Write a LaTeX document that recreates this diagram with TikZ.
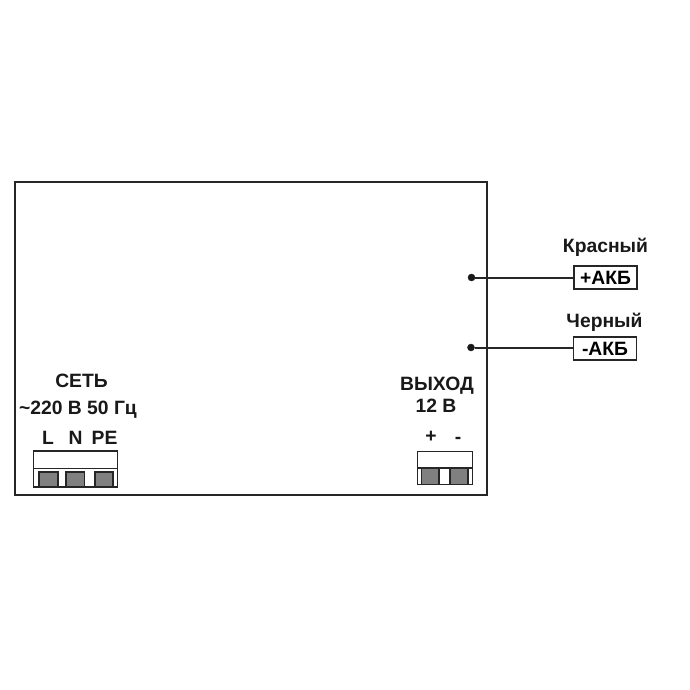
\documentclass[tikz,border=0pt]{standalone}
\usepackage{fontspec}
\setmainfont{Liberation Sans}[Ligatures=TeX]
\tikzset{
  px/.style={x=1pt,y=-1pt},
  lbl/.style={font=\bfseries\fontsize{19.3}{22}\selectfont,text=black!90,inner sep=0pt,anchor=center},
  wire/.style={line width=2pt,draw=black!85},
  body/.style={line width=2pt,draw=black!85,fill=white},
  pin/.style={draw=black!85,line width=1.6pt,fill=black!50},
  batt/.style={draw=black!85,line width=1.8pt,fill=white,minimum height=23pt,inner sep=0pt,font=\bfseries\fontsize{19.3}{22}\selectfont},
  dot/.style={circle,fill=black!90,draw=black!90,inner sep=0pt,minimum size=7pt}
}
\begin{document}
\begin{tikzpicture}[px]
\useasboundingbox (0,0) rectangle (690,690);
\fill[white] (0,0) rectangle (690,690);
\draw[body] (14.5,181.5) rectangle (487,495);
% left terminal
\draw[body,line width=1.7pt] (33.5,451) rectangle (117.5,487);
\draw[wire,line width=1.6pt] (33.5,468.5) -- (117.5,468.5);
\draw[pin] (39,472) rectangle (58,486.5);
\draw[pin] (66,472) rectangle (84.5,486.5);
\draw[pin] (95,472) rectangle (113,486.5);
% right terminal
\draw[body,line width=1.7pt] (417.5,451.5) rectangle (472.5,484.5);
\draw[wire,line width=1.6pt] (417.5,468) -- (472.5,468);
\draw[pin] (421.5,468.5) rectangle (439,484.5);
\draw[pin] (450,468.5) rectangle (468,484.5);
% labels
\node[lbl] (set) at (81.5,380.5) {СЕТЬ};
\node[lbl] (volt) at (78,410) {\textasciitilde 220 В 50 Гц};
\node[lbl] (l) at (48,437.5) {L};
\node[lbl] (n) at (75.5,437.5) {N};
\node[lbl] (pe) at (104.5,437.5) {PE};
\node[lbl] (out) at (437,386) {ВЫХОД};
\node[lbl] (v12) at (436,406) {12 В};
\node[lbl] (plus) at (431,437) {+};
\node[lbl] (minus) at (458,440) {-};
\node[lbl] (red) at (605.5,247) {Красный};
\node[lbl] (black) at (604.5,322) {Черный};
% batteries
\node[batt,minimum width=63pt] (bp) at (605.5,277.5) {+АКБ};
\node[batt,minimum width=63pt] (bm) at (605,348.5) {-АКБ};
\node[dot] (dp) at (471.5,277.5) {};
\node[dot] (dm) at (471,347.5) {};
\draw[wire] (dp) -- (dp -| bp.west);
\draw[wire] (dm) -- (dm -| bm.west);
\end{tikzpicture}
\end{document}
